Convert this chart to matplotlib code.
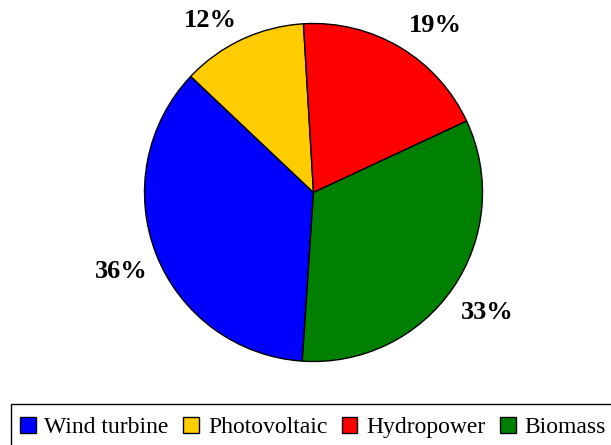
import matplotlib
matplotlib.use("Agg")
import matplotlib.pyplot as plt
from matplotlib.patches import Rectangle
import numpy as np

categories = ["Wind turbine", "Photovoltaic", "Hydropower", "Biomass"]
shares = [36, 12, 19, 33]
colors = ["#0000FF", "#FFCC00", "#FF0000", "#008000"]

plt.rcParams['font.family'] = ['Liberation Serif', 'DejaVu Serif']

W, H = 611, 445
fig = plt.figure(figsize=(W / 100, H / 100), dpi=100)
cx, cy, R = 313.5, 445 - 192.5, 169
ax = fig.add_axes([(cx - R) / W, (cy - R) / H, 2 * R / W, 2 * R / H])

wedges, _, autotexts = ax.pie(
    shares, colors=colors, startangle=266.2, counterclock=False,
    radius=1.0, autopct='%1.0f%%', pctdistance=1.22,
    wedgeprops=dict(edgecolor='black', linewidth=1.0),
    textprops=dict(fontsize=19, fontweight='bold', color='black'))
ax.set_xlim(-1, 1)
ax.set_ylim(-1, 1)
ax.set_aspect('equal')
ax.axis('off')

# fine placement of labels (angle offset deg, radial distance)
label_adjust = [(0.7, 1.225), (5.8, 1.195), (-5.2, 1.23), (0.0, 1.245)]
ydrop = 1.3 / R
for w, t, (da, rd) in zip(wedges, autotexts, label_adjust):
    mid = np.deg2rad((w.theta1 + w.theta2) / 2 + da)
    t.set_position((rd * np.cos(mid), rd * np.sin(mid) - ydrop))
    t.set_ha('center')
    t.set_va('center')
    t.set_clip_on(False)

# legend drawn in pixel coordinates (origin bottom-left)
px = lambda x, y: (x / W, y / H)
frame = Rectangle(px(11, -20), (W + 20) / W, (41 + 20) / H,
                  transform=fig.transFigure, facecolor='white',
                  edgecolor='black', linewidth=1.0, clip_on=True)
fig.patches.append(frame)

renderer = fig.canvas.get_renderer()
x = 20.0
sq = 15.5
base = 445 - 433
for name, col in zip(categories, colors):
    fig.patches.append(Rectangle(px(x, base + 0.5), sq / W, sq / H,
                                 transform=fig.transFigure, facecolor=col,
                                 edgecolor='black', linewidth=1.0))
    x += sq + 9
    t = fig.text(*px(x, base), name, fontsize=17, ha='left', va='baseline')
    bb = t.get_window_extent(renderer)
    x += bb.width + 14.5

fig.savefig('out.png', dpi=100)
